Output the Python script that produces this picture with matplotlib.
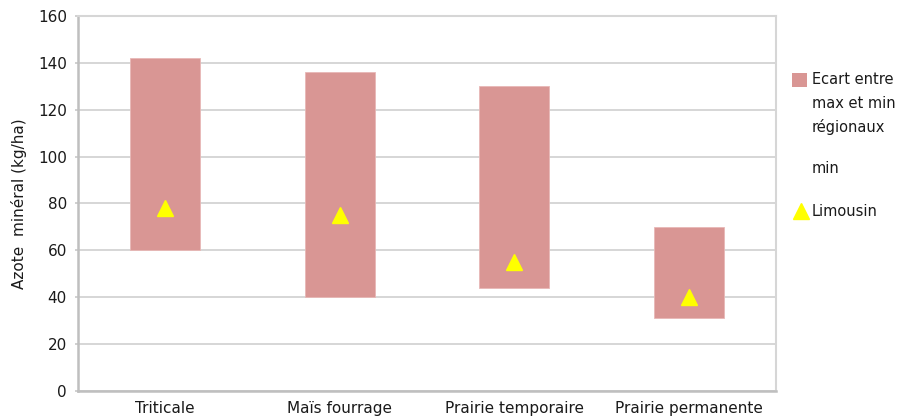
import matplotlib
matplotlib.use("Agg")
import matplotlib.pyplot as plt
from matplotlib.patches import Rectangle
from matplotlib.lines import Line2D

plt.rcParams['font.family'] = ['DejaVu Sans']

categories = ["Triticale", "Maïs fourrage", "Prairie temporaire", "Prairie permanente"]
regional_min = [60, 40, 44, 31]
regional_max = [142, 136, 130, 70]
limousin = [78, 75, 55, 40]
yticks = [0, 20, 40, 60, 80, 100, 120, 140, 160]

spread = [hi - lo for hi, lo in zip(regional_max, regional_min)]

W, H = 905, 419
fig = plt.figure(figsize=(W / 100, H / 100), dpi=100)
ax = fig.add_axes([78 / W, 1 - 391 / H, 698 / W, 375 / H])

x = list(range(len(categories)))
bar_color = "#D99694"
tri_color = "#FFFF00"
text_color = "#1A1A1A"

ax.bar(x, regional_min, width=0.4, color="none", edgecolor="none")
ax.bar(x, spread, bottom=regional_min, width=0.4, color=bar_color,
       edgecolor="#E8B8B6", linewidth=0.6, zorder=2)
ax.plot(x, limousin, linestyle="none", marker="^", markersize=12,
        color=tri_color, markeredgecolor=tri_color, zorder=3)

ax.set_xlim(-0.5, len(categories) - 0.5)
ax.set_ylim(0, 160)
ax.set_yticks(yticks)
ax.set_xticks(x)
ax.set_xticklabels(categories, fontsize=11, color=text_color)
ax.tick_params(axis="y", labelsize=11, labelcolor=text_color, length=2,
               width=1.2, color="#C8C8C8", pad=6)
ax.tick_params(axis="x", length=0, pad=7)
ax.yaxis.grid(True, color="#D0D0D0", linewidth=1.2)
ax.set_axisbelow(True)
for side in ["left", "bottom"]:
    ax.spines[side].set_color("#BFBFBF")
    ax.spines[side].set_linewidth(1.8)
for side in ["top", "right"]:
    ax.spines[side].set_color("#D6D6D6")
    ax.spines[side].set_linewidth(1.5)

ax.set_ylabel("Azote  minéral (kg/ha)", fontsize=11, color=text_color,
              labelpad=8)

# Legend, laid out by hand so the swatch sits beside the first line
def fy(py):
    return 1 - py / H

fig.patches.append(Rectangle((792 / W, fy(87)), 15 / W, 14 / H,
                             transform=fig.transFigure, facecolor=bar_color,
                             edgecolor="none"))
fig.lines.append(Line2D([801 / W], [fy(211)], transform=fig.transFigure,
                        linestyle="none", marker="^", markersize=12,
                        color=tri_color, markeredgecolor=tri_color))
legend_lines = [("Ecart entre", 79), ("max et min", 103), ("régionaux", 127),
                ("min", 168), ("Limousin", 211)]
for label, py in legend_lines:
    fig.text(812 / W, fy(py), label, fontsize=10.5, color=text_color,
             ha="left", va="center")

fig.savefig("out.png", dpi=100)
